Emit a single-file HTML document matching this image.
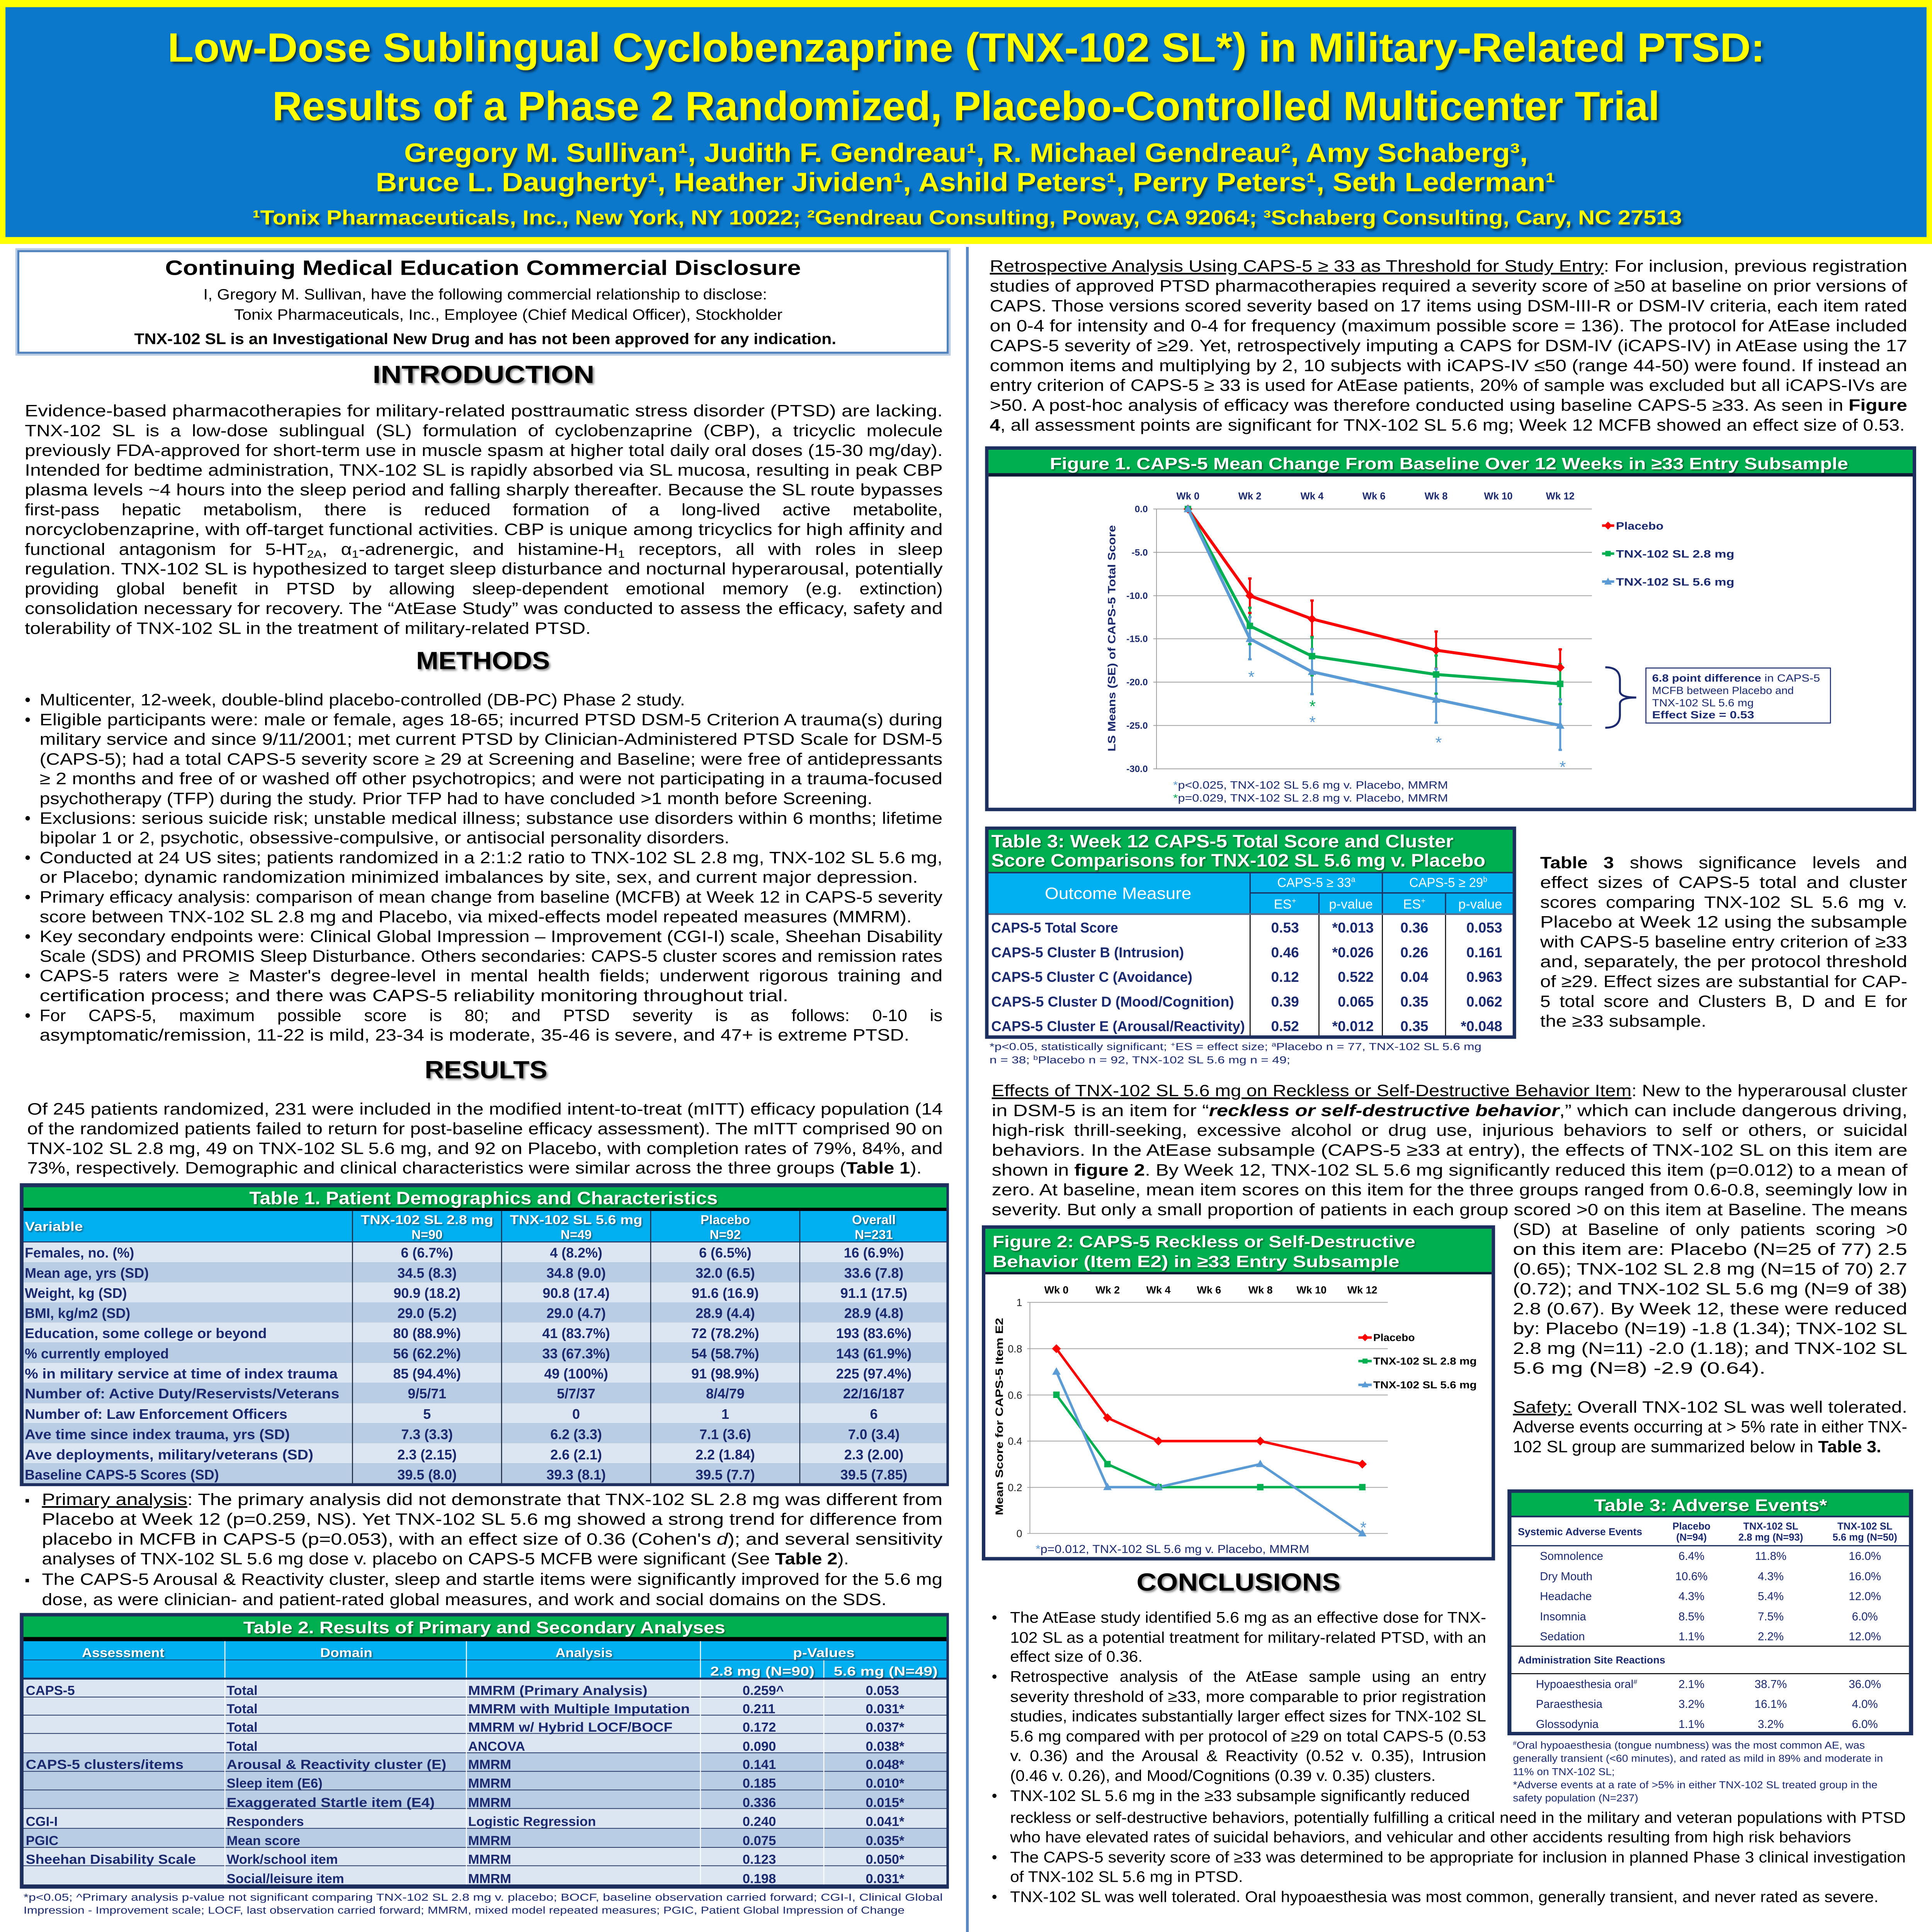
<!DOCTYPE html>
<html><head><meta charset="utf-8"><style>
html,body{margin:0;padding:0;background:#fff;width:100%;height:100%;overflow:hidden}
svg{display:block;width:100vw;height:100vh}
</style></head><body>
<svg xmlns="http://www.w3.org/2000/svg" width="100%" height="100%" viewBox="0 0 7800 7800" preserveAspectRatio="none">
<style>
text{font-family:"Liberation Sans",Arial,"DejaVu Sans",sans-serif}
.bd{font-size:67px;fill:#000}
.cn{font-size:62px;fill:#000}
.hd{font-size:100px;font-weight:bold;fill:#000;filter:drop-shadow(6px 6px 4px rgba(0,0,0,.45))}
.nv{fill:#1b2a6e}
.tt{font-weight:bold;fill:#fff;filter:drop-shadow(4px 4px 3px rgba(0,0,0,.5))}
.t1{font-size:56px;font-weight:bold;fill:#1b2a6e}
.t2{font-size:54px;font-weight:bold;fill:#1b2a6e}
.fn{font-size:40px;fill:#1b2a6e}
</style>

<!-- ============ HEADER ============ -->
<rect x="0" y="0" width="7800" height="985" fill="#ffff00"/>
<rect x="22" y="29" width="7756" height="928" fill="#0b78cc"/>
<g font-weight="bold" fill="#ffff00" text-anchor="middle" style="filter:drop-shadow(8px 8px 5px rgba(0,0,0,.6))">
<text x="3901" y="249" font-size="165" textLength="6449" lengthAdjust="spacingAndGlyphs">Low-Dose Sublingual Cyclobenzaprine (TNX-102 SL*) in Military-Related PTSD:</text>
<text x="3900" y="485" font-size="165" textLength="5601" lengthAdjust="spacingAndGlyphs">Results of a Phase 2 Randomized, Placebo-Controlled Multicenter Trial</text>
<text x="3900" y="654" font-size="107" textLength="4537" lengthAdjust="spacingAndGlyphs">Gregory M. Sullivan¹, Judith F. Gendreau¹, R. Michael Gendreau², Amy Schaberg³,</text>
<text x="3898" y="772" font-size="107" textLength="4762" lengthAdjust="spacingAndGlyphs">Bruce L. Daugherty¹, Heather Jividen¹, Ashild Peters¹, Perry Peters¹, Seth Lederman¹</text>
<text x="3905" y="906" font-size="82" textLength="5771" lengthAdjust="spacingAndGlyphs">¹Tonix Pharmaceuticals, Inc., New York, NY 10022; ²Gendreau Consulting, Poway, CA 92064; ³Schaberg Consulting, Cary, NC 27513</text>
</g>

<!-- column divider -->
<rect x="3900" y="997" width="11" height="6803" fill="#5b87c5"/>

<!-- ============ LEFT COLUMN ============ -->
<rect x="70" y="1010" width="3760" height="418" fill="#fff" stroke="#b8cce4" stroke-width="16"/>
<rect x="74" y="1014" width="3752" height="410" fill="none" stroke="#4f81bd" stroke-width="8"/>
<g text-anchor="middle" fill="#000">
<text x="1950" y="1110" font-size="84" font-weight="bold" textLength="2567" lengthAdjust="spacingAndGlyphs">Continuing Medical Education Commercial Disclosure</text>
<text x="1959" y="1209" font-size="60" textLength="2276" lengthAdjust="spacingAndGlyphs">I, Gregory M. Sullivan, have the following commercial relationship to disclose:</text>
<text x="2052" y="1291" font-size="60" textLength="2214" lengthAdjust="spacingAndGlyphs">Tonix Pharmaceuticals, Inc., Employee (Chief Medical Officer), Stockholder</text>
<text x="1959" y="1389" font-size="62" font-weight="bold" textLength="2834" lengthAdjust="spacingAndGlyphs">TNX-102 SL is an Investigational New Drug and has not been approved for any indication.</text>
</g>

<text class="hd" x="1952" y="1546" text-anchor="middle" textLength="895" lengthAdjust="spacingAndGlyphs">INTRODUCTION</text>

<g class="bd">
<text x="100" y="1681" textLength="3706" lengthAdjust="spacingAndGlyphs">Evidence-based pharmacotherapies for military-related posttraumatic stress disorder (PTSD) are lacking.</text>
<text x="100" y="1761" textLength="3706" lengthAdjust="spacingAndGlyphs" style="word-spacing:20px">TNX-102 SL is a low-dose sublingual (SL) formulation of cyclobenzaprine (CBP), a tricyclic molecule</text>
<text x="100" y="1841" textLength="3706" lengthAdjust="spacingAndGlyphs">previously FDA-approved for short-term use in muscle spasm at higher total daily oral doses (15-30 mg/day).</text>
<text x="100" y="1920" textLength="3706" lengthAdjust="spacingAndGlyphs">Intended for bedtime administration, TNX-102 SL is rapidly absorbed via SL mucosa, resulting in peak CBP</text>
<text x="100" y="2000" textLength="3706" lengthAdjust="spacingAndGlyphs">plasma levels ~4 hours into the sleep period and falling sharply thereafter. Because the SL route bypasses</text>
<text x="100" y="2080" textLength="3706" lengthAdjust="spacingAndGlyphs" style="word-spacing:62px">first-pass hepatic metabolism, there is reduced formation of a long-lived active metabolite,</text>
<text x="100" y="2160" textLength="3706" lengthAdjust="spacingAndGlyphs">norcyclobenzaprine, with off-target functional activities.  CBP is unique among tricyclics for high affinity and</text>
<text x="100" y="2240" textLength="3706" lengthAdjust="spacingAndGlyphs" style="word-spacing:30px">functional antagonism for 5-HT<tspan font-size="44" dy="12">2A</tspan><tspan dy="-12">, α</tspan><tspan font-size="44" dy="12">1</tspan><tspan dy="-12">-adrenergic, and histamine-H</tspan><tspan font-size="44" dy="12">1</tspan><tspan dy="-12"> receptors, all with roles in sleep</tspan></text>
<text x="100" y="2319" textLength="3706" lengthAdjust="spacingAndGlyphs">regulation. TNX-102 SL is hypothesized to target sleep disturbance and nocturnal hyperarousal, potentially</text>
<text x="100" y="2399" textLength="3706" lengthAdjust="spacingAndGlyphs" style="word-spacing:45px">providing global benefit in PTSD by allowing sleep-dependent emotional memory (e.g. extinction)</text>
<text x="100" y="2479" textLength="3706" lengthAdjust="spacingAndGlyphs">consolidation necessary for recovery. The “AtEase Study” was conducted to assess the efficacy, safety and</text>
<text x="100" y="2559" textLength="2285" lengthAdjust="spacingAndGlyphs">tolerability of TNX-102 SL in the treatment of military-related PTSD.</text>
</g>

<text class="hd" x="1950" y="2701" text-anchor="middle" textLength="540" lengthAdjust="spacingAndGlyphs">METHODS</text>

<g class="bd">
<text x="100" y="2848">•</text><text x="160" y="2848" textLength="2606" lengthAdjust="spacingAndGlyphs">Multicenter, 12-week, double-blind placebo-controlled (DB-PC) Phase 2 study.</text>
<text x="100" y="2928">•</text><text x="160" y="2928" textLength="3645" lengthAdjust="spacingAndGlyphs">Eligible participants were: male or female, ages 18-65; incurred PTSD DSM-5 Criterion A trauma(s) during</text>
<text x="160" y="3007" textLength="3645" lengthAdjust="spacingAndGlyphs">military service and since 9/11/2001; met current PTSD by Clinician-Administered PTSD Scale for DSM-5</text>
<text x="160" y="3087" textLength="3645" lengthAdjust="spacingAndGlyphs">(CAPS-5); had a total CAPS-5 severity score ≥ 29 at Screening and Baseline; were free of antidepressants</text>
<text x="160" y="3166" textLength="3645" lengthAdjust="spacingAndGlyphs">≥ 2 months and free of or washed off other psychotropics; and were not participating in a trauma-focused</text>
<text x="160" y="3246" textLength="3362" lengthAdjust="spacingAndGlyphs">psychotherapy (TFP) during the study. Prior TFP had to have concluded &gt;1 month before Screening.</text>
<text x="100" y="3326">•</text><text x="160" y="3326" textLength="3645" lengthAdjust="spacingAndGlyphs">Exclusions: serious suicide risk; unstable medical illness; substance use disorders within 6 months; lifetime</text>
<text x="160" y="3405" textLength="2785" lengthAdjust="spacingAndGlyphs">bipolar 1 or 2, psychotic, obsessive-compulsive, or antisocial personality disorders.</text>
<text x="100" y="3485">•</text><text x="160" y="3485" textLength="3645" lengthAdjust="spacingAndGlyphs">Conducted at 24 US sites; patients randomized in a 2:1:2 ratio to TNX-102 SL 2.8 mg, TNX-102 SL 5.6 mg,</text>
<text x="160" y="3564" textLength="3546" lengthAdjust="spacingAndGlyphs">or Placebo; dynamic randomization minimized imbalances by site, sex, and current major depression.</text>
<text x="100" y="3644">•</text><text x="160" y="3644" textLength="3645" lengthAdjust="spacingAndGlyphs">Primary efficacy analysis: comparison of mean change from baseline (MCFB) at Week 12 in CAPS-5 severity</text>
<text x="160" y="3724" textLength="3521" lengthAdjust="spacingAndGlyphs">score between TNX-102 SL 2.8 mg and Placebo, via mixed-effects model repeated measures (MMRM).</text>
<text x="100" y="3803">•</text><text x="160" y="3803" textLength="3645" lengthAdjust="spacingAndGlyphs">Key secondary endpoints were: Clinical Global Impression – Improvement (CGI-I) scale, Sheehan Disability</text>
<text x="160" y="3883" textLength="3645" lengthAdjust="spacingAndGlyphs">Scale (SDS) and PROMIS Sleep Disturbance. Others secondaries: CAPS-5 cluster scores and remission rates</text>
<text x="100" y="3962">•</text><text x="160" y="3962" textLength="3645" lengthAdjust="spacingAndGlyphs" style="word-spacing:15px">CAPS-5 raters were ≥ Master's degree-level in mental health fields; underwent rigorous training and</text>
<text x="160" y="4042" textLength="3023" lengthAdjust="spacingAndGlyphs">certification process; and there was CAPS-5 reliability monitoring throughout trial.</text>
<text x="100" y="4122">•</text><text x="160" y="4122" textLength="3645" lengthAdjust="spacingAndGlyphs" style="word-spacing:68px">For CAPS-5, maximum possible score is 80; and PTSD severity is as follows: 0-10 is</text>
<text x="160" y="4201" textLength="3511" lengthAdjust="spacingAndGlyphs">asymptomatic/remission, 11-22 is mild, 23-34 is moderate,  35-46 is severe, and 47+ is extreme PTSD.</text>
</g>

<text class="hd" x="1962" y="4353" text-anchor="middle" textLength="495" lengthAdjust="spacingAndGlyphs">RESULTS</text>

<g class="bd">
<text x="110" y="4500" textLength="3696" lengthAdjust="spacingAndGlyphs">Of 245 patients randomized, 231 were included in the modified intent-to-treat (mITT) efficacy population (14</text>
<text x="110" y="4579" textLength="3696" lengthAdjust="spacingAndGlyphs">of the randomized patients failed to return for post-baseline efficacy assessment). The mITT comprised 90 on</text>
<text x="110" y="4659" textLength="3696" lengthAdjust="spacingAndGlyphs">TNX-102 SL 2.8 mg, 49 on TNX-102 SL 5.6 mg, and 92 on Placebo, with completion rates of 79%, 84%, and</text>
<text x="110" y="4738" textLength="3611" lengthAdjust="spacingAndGlyphs">73%, respectively. Demographic and clinical characteristics were similar across the three groups (<tspan font-weight="bold">Table 1</tspan>).</text>
</g>

<!-- Table 1 -->
<rect x="80" y="4777" width="3751" height="1223" fill="#1c2f5e"/>
<rect x="95" y="4793" width="3726" height="83" fill="#00b050"/>
<rect x="95" y="4876" width="3726" height="13" fill="#000"/>
<rect x="95" y="4889" width="3726" height="123" fill="#00b0f0"/>
<g>
<rect x="95" y="5016" width="3726" height="81" fill="#dce6f2"/>
<rect x="95" y="5097" width="3726" height="80" fill="#b9cde5"/>
<rect x="95" y="5177" width="3726" height="81" fill="#dce6f2"/>
<rect x="95" y="5258" width="3726" height="81" fill="#b9cde5"/>
<rect x="95" y="5339" width="3726" height="81" fill="#dce6f2"/>
<rect x="95" y="5420" width="3726" height="82" fill="#b9cde5"/>
<rect x="95" y="5502" width="3726" height="81" fill="#dce6f2"/>
<rect x="95" y="5583" width="3726" height="82" fill="#b9cde5"/>
<rect x="95" y="5665" width="3726" height="81" fill="#dce6f2"/>
<rect x="95" y="5746" width="3726" height="80" fill="#b9cde5"/>
<rect x="95" y="5826" width="3726" height="82" fill="#dce6f2"/>
<rect x="95" y="5908" width="3726" height="80" fill="#b9cde5"/>
</g>
<g stroke="#1a2540" stroke-width="4">
<line x1="1423" y1="4889" x2="1423" y2="5988"/><line x1="2025" y1="4889" x2="2025" y2="5988"/>
<line x1="2627" y1="4889" x2="2627" y2="5988"/><line x1="3229" y1="4889" x2="3229" y2="5988"/>
</g>
<text class="tt" x="1952" y="4862" font-size="72" text-anchor="middle" textLength="1891" lengthAdjust="spacingAndGlyphs">Table 1. Patient Demographics and Characteristics</text>
<g class="tt" font-size="52">
<text x="100" y="4969" textLength="235" lengthAdjust="spacingAndGlyphs">Variable</text>
<g text-anchor="middle">
<text x="1724" y="4942" textLength="535" lengthAdjust="spacingAndGlyphs">TNX-102 SL 2.8 mg</text><text x="1724" y="5002">N=90</text>
<text x="2326" y="4942" textLength="535" lengthAdjust="spacingAndGlyphs">TNX-102 SL 5.6 mg</text><text x="2326" y="5002">N=49</text>
<text x="2928" y="4942">Placebo</text><text x="2928" y="5002">N=92</text>
<text x="3528" y="4942">Overall</text><text x="3528" y="5002">N=231</text>
</g></g>
<g class="t1">
<text x="100" y="5077">Females, no. (%)</text>
<text x="100" y="5159">Mean age, yrs (SD)</text>
<text x="100" y="5240">Weight, kg (SD)</text>
<text x="100" y="5321">BMI, kg/m2 (SD)</text>
<text x="100" y="5402" textLength="977" lengthAdjust="spacingAndGlyphs">Education, some college or beyond</text>
<text x="100" y="5484">% currently employed</text>
<text x="100" y="5565" textLength="1263" lengthAdjust="spacingAndGlyphs">% in military service at time of index trauma</text>
<text x="100" y="5646" textLength="1270" lengthAdjust="spacingAndGlyphs">Number of: Active Duty/Reservists/Veterans</text>
<text x="100" y="5728" textLength="1060" lengthAdjust="spacingAndGlyphs">Number of: Law Enforcement Officers</text>
<text x="100" y="5810" textLength="1070" lengthAdjust="spacingAndGlyphs">Ave time since index trauma, yrs (SD)</text>
<text x="100" y="5892" textLength="1165" lengthAdjust="spacingAndGlyphs">Ave deployments, military/veterans (SD)</text>
<text x="100" y="5973">Baseline CAPS-5 Scores (SD)</text>
<g text-anchor="middle">
<text x="1724" y="5077">6 (6.7%)</text><text x="2326" y="5077">4 (8.2%)</text><text x="2928" y="5077">6 (6.5%)</text><text x="3528" y="5077">16 (6.9%)</text>
<text x="1724" y="5159">34.5 (8.3)</text><text x="2326" y="5159">34.8 (9.0)</text><text x="2928" y="5159">32.0 (6.5)</text><text x="3528" y="5159">33.6 (7.8)</text>
<text x="1724" y="5240">90.9 (18.2)</text><text x="2326" y="5240">90.8 (17.4)</text><text x="2928" y="5240">91.6 (16.9)</text><text x="3528" y="5240">91.1 (17.5)</text>
<text x="1724" y="5321">29.0 (5.2)</text><text x="2326" y="5321">29.0 (4.7)</text><text x="2928" y="5321">28.9 (4.4)</text><text x="3528" y="5321">28.9 (4.8)</text>
<text x="1724" y="5402">80 (88.9%)</text><text x="2326" y="5402">41 (83.7%)</text><text x="2928" y="5402">72 (78.2%)</text><text x="3528" y="5402">193 (83.6%)</text>
<text x="1724" y="5484">56 (62.2%)</text><text x="2326" y="5484">33 (67.3%)</text><text x="2928" y="5484">54 (58.7%)</text><text x="3528" y="5484">143 (61.9%)</text>
<text x="1724" y="5565">85 (94.4%)</text><text x="2326" y="5565">49 (100%)</text><text x="2928" y="5565">91 (98.9%)</text><text x="3528" y="5565">225 (97.4%)</text>
<text x="1724" y="5646">9/5/71</text><text x="2326" y="5646">5/7/37</text><text x="2928" y="5646">8/4/79</text><text x="3528" y="5646">22/16/187</text>
<text x="1724" y="5728">5</text><text x="2326" y="5728">0</text><text x="2928" y="5728">1</text><text x="3528" y="5728">6</text>
<text x="1724" y="5810">7.3 (3.3)</text><text x="2326" y="5810">6.2 (3.3)</text><text x="2928" y="5810">7.1 (3.6)</text><text x="3528" y="5810">7.0 (3.4)</text>
<text x="1724" y="5892">2.3 (2.15)</text><text x="2326" y="5892">2.6 (2.1)</text><text x="2928" y="5892">2.2 (1.84)</text><text x="3528" y="5892">2.3 (2.00)</text>
<text x="1724" y="5973">39.5 (8.0)</text><text x="2326" y="5973">39.3 (8.1)</text><text x="2928" y="5973">39.5 (7.7)</text><text x="3528" y="5973">39.5 (7.85)</text>
</g></g>

<g class="bd">
<text x="100" y="6076" font-size="56">▪</text><text x="169" y="6076" textLength="3636" lengthAdjust="spacingAndGlyphs"><tspan text-decoration="underline">Primary analysis</tspan>: The primary analysis did not demonstrate that TNX-102 SL 2.8 mg was different from</text>
<text x="169" y="6156" textLength="3636" lengthAdjust="spacingAndGlyphs">Placebo at Week 12 (p=0.259, NS). Yet TNX-102 SL 5.6 mg showed a strong trend for difference from</text>
<text x="169" y="6236" textLength="3636" lengthAdjust="spacingAndGlyphs">placebo in MCFB in CAPS-5 (p=0.053), with an effect size of 0.36 (Cohen's <tspan font-style="italic">d</tspan>); and several sensitivity</text>
<text x="169" y="6316" textLength="3258" lengthAdjust="spacingAndGlyphs">analyses of TNX-102 SL 5.6 mg dose v. placebo on CAPS-5 MCFB were significant (See <tspan font-weight="bold">Table 2</tspan>).</text>
<text x="100" y="6398" font-size="56">▪</text><text x="169" y="6398" textLength="3636" lengthAdjust="spacingAndGlyphs">The CAPS-5 Arousal &amp; Reactivity cluster, sleep and startle items were significantly improved for the 5.6 mg</text>
<text x="169" y="6480" textLength="3410" lengthAdjust="spacingAndGlyphs">dose, as were clinician- and patient-rated global measures, and work and social domains on the SDS.</text>
</g>

<!-- Table 2 -->
<rect x="80" y="6512" width="3751" height="1113" fill="#1c2f5e"/>
<rect x="95" y="6526" width="3726" height="83" fill="#00b050"/>
<rect x="95" y="6609" width="3726" height="17" fill="#000"/>
<rect x="95" y="6626" width="3726" height="74" fill="#00b0f0"/>
<rect x="95" y="6703" width="3726" height="70" fill="#00b0f0"/>
<g>
<rect x="95" y="6781" width="3726" height="69" fill="#dce6f2"/>
<rect x="95" y="6853" width="3726" height="70" fill="#dce6f2"/>
<rect x="95" y="6926" width="3726" height="71" fill="#dce6f2"/>
<rect x="95" y="7000" width="3726" height="75" fill="#dce6f2"/>
<rect x="95" y="7078" width="3726" height="72" fill="#b9cde5"/>
<rect x="95" y="7153" width="3726" height="72" fill="#b9cde5"/>
<rect x="95" y="7228" width="3726" height="72" fill="#b9cde5"/>
<rect x="95" y="7303" width="3726" height="77" fill="#dce6f2"/>
<rect x="95" y="7383" width="3726" height="74" fill="#b9cde5"/>
<rect x="95" y="7460" width="3726" height="71" fill="#dce6f2"/>
<rect x="95" y="7534" width="3726" height="74" fill="#dce6f2"/>
</g>
<g stroke="#fff" stroke-width="4">
<line x1="908" y1="6626" x2="908" y2="6773"/><line x1="1883" y1="6626" x2="1883" y2="6773"/><line x1="2828" y1="6626" x2="2828" y2="6773"/><line x1="3326" y1="6703" x2="3326" y2="6773"/>
<line x1="908" y1="6781" x2="908" y2="7608"/><line x1="1883" y1="6781" x2="1883" y2="7608"/><line x1="2828" y1="6781" x2="2828" y2="7608"/><line x1="3326" y1="6781" x2="3326" y2="7608"/>
</g>
<text class="tt" x="1955" y="6594" font-size="68" text-anchor="middle" textLength="1946" lengthAdjust="spacingAndGlyphs">Table 2. Results of Primary and Secondary Analyses</text>
<g class="tt" font-size="52" text-anchor="middle">
<text x="497" y="6690" textLength="333" lengthAdjust="spacingAndGlyphs">Assessment</text>
<text x="1398" y="6690" textLength="211" lengthAdjust="spacingAndGlyphs">Domain</text>
<text x="2358" y="6690" textLength="231" lengthAdjust="spacingAndGlyphs">Analysis</text>
<text x="3326" y="6690" textLength="249" lengthAdjust="spacingAndGlyphs">p-Values</text>
<text x="3078" y="6765" textLength="421" lengthAdjust="spacingAndGlyphs">2.8 mg (N=90)</text>
<text x="3576" y="6765" textLength="420" lengthAdjust="spacingAndGlyphs">5.6 mg (N=49)</text>
</g>
<g class="t2">
<text x="104" y="6843">CAPS-5</text><text x="915" y="6843">Total</text><text x="1890" y="6843" textLength="724" lengthAdjust="spacingAndGlyphs">MMRM (Primary Analysis)</text><text x="2998" y="6843">0.259^</text><text x="3495" y="6843">0.053</text>
<text x="915" y="6917">Total</text><text x="1890" y="6917" textLength="895" lengthAdjust="spacingAndGlyphs">MMRM with Multiple Imputation</text><text x="2998" y="6917">0.211</text><text x="3495" y="6917">0.031*</text>
<text x="915" y="6991">Total</text><text x="1890" y="6991" textLength="825" lengthAdjust="spacingAndGlyphs">MMRM w/ Hybrid LOCF/BOCF</text><text x="2998" y="6991">0.172</text><text x="3495" y="6991">0.037*</text>
<text x="915" y="7068">Total</text><text x="1890" y="7068">ANCOVA</text><text x="2998" y="7068">0.090</text><text x="3495" y="7068">0.038*</text>
<text x="104" y="7142" textLength="637" lengthAdjust="spacingAndGlyphs">CAPS-5 clusters/items</text><text x="915" y="7142" textLength="887" lengthAdjust="spacingAndGlyphs">Arousal &amp; Reactivity cluster (E)</text><text x="1890" y="7142">MMRM</text><text x="2998" y="7142">0.141</text><text x="3495" y="7142">0.048*</text>
<text x="915" y="7217">Sleep item (E6)</text><text x="1890" y="7217">MMRM</text><text x="2998" y="7217">0.185</text><text x="3495" y="7217">0.010*</text>
<text x="915" y="7295" textLength="840" lengthAdjust="spacingAndGlyphs">Exaggerated Startle item (E4)</text><text x="1890" y="7295">MMRM</text><text x="2998" y="7295">0.336</text><text x="3495" y="7295">0.015*</text>
<text x="104" y="7372">CGI-I</text><text x="915" y="7372">Responders</text><text x="1890" y="7372">Logistic Regression</text><text x="2998" y="7372">0.240</text><text x="3495" y="7372">0.041*</text>
<text x="104" y="7449">PGIC</text><text x="915" y="7449">Mean score</text><text x="1890" y="7449">MMRM</text><text x="2998" y="7449">0.075</text><text x="3495" y="7449">0.035*</text>
<text x="104" y="7525" textLength="687" lengthAdjust="spacingAndGlyphs">Sheehan Disability Scale</text><text x="915" y="7525">Work/school item</text><text x="1890" y="7525">MMRM</text><text x="2998" y="7525">0.123</text><text x="3495" y="7525">0.050*</text>
<text x="915" y="7603">Social/leisure item</text><text x="1890" y="7603">MMRM</text><text x="2998" y="7603">0.198</text><text x="3495" y="7603">0.031*</text>
</g>
<g class="fn" font-size="44">
<text x="95" y="7674" textLength="3711" lengthAdjust="spacingAndGlyphs">*p&lt;0.05; ^Primary analysis p-value not significant comparing TNX-102 SL 2.8 mg v. placebo; BOCF, baseline observation carried forward; CGI-I, Clinical Global</text>
<text x="95" y="7726" textLength="3557" lengthAdjust="spacingAndGlyphs">Impression - Improvement scale; LOCF, last observation carried forward; MMRM, mixed model repeated measures; PGIC, Patient Global Impression of Change</text>
</g>

<!-- ============ RIGHT COLUMN ============ -->
<g class="bd">
<text x="3996" y="1097" textLength="3704" lengthAdjust="spacingAndGlyphs"><tspan text-decoration="underline">Retrospective Analysis Using CAPS-5 ≥ 33 as Threshold for Study Entry</tspan>: For inclusion, previous registration</text>
<text x="3996" y="1177" textLength="3704" lengthAdjust="spacingAndGlyphs">studies of approved PTSD pharmacotherapies required a severity score of ≥50 at baseline on prior versions of</text>
<text x="3996" y="1257" textLength="3704" lengthAdjust="spacingAndGlyphs">CAPS. Those versions scored severity based on 17 items using DSM-III-R or DSM-IV criteria, each item rated</text>
<text x="3996" y="1338" textLength="3704" lengthAdjust="spacingAndGlyphs">on 0-4 for intensity and 0-4 for frequency (maximum possible score = 136). The protocol for AtEase included</text>
<text x="3996" y="1418" textLength="3704" lengthAdjust="spacingAndGlyphs">CAPS-5 severity of ≥29. Yet, retrospectively imputing a CAPS for DSM-IV (iCAPS-IV) in AtEase using the 17</text>
<text x="3996" y="1498" textLength="3704" lengthAdjust="spacingAndGlyphs">common items and multiplying by 2, 10 subjects with iCAPS-IV ≤50 (range 44-50) were found. If instead an</text>
<text x="3996" y="1578" textLength="3704" lengthAdjust="spacingAndGlyphs">entry criterion of CAPS-5 ≥ 33 is used for AtEase patients, 20% of sample was excluded but all iCAPS-IVs are</text>
<text x="3996" y="1658" textLength="3704" lengthAdjust="spacingAndGlyphs">&gt;50. A post-hoc analysis of efficacy was therefore conducted using baseline CAPS-5 ≥33. As seen in <tspan font-weight="bold">Figure</tspan></text>
<text x="3996" y="1739" textLength="3694" lengthAdjust="spacingAndGlyphs"><tspan font-weight="bold">4</tspan>, all assessment points are significant for TNX-102 SL 5.6 mg; Week 12 MCFB showed an effect size of 0.53.</text>
</g>

<!-- Figure 1 -->
<rect x="3984" y="1809" width="3745" height="1459" fill="#fff" stroke="#1c2f5e" stroke-width="14"/>
<rect x="3991" y="1816" width="3731" height="94" fill="#00b050"/>
<rect x="3991" y="1910" width="3731" height="14" fill="#0d1a33"/>
<text class="tt" x="5850" y="1895" font-size="66" text-anchor="middle" textLength="3223" lengthAdjust="spacingAndGlyphs">Figure 1. CAPS-5 Mean Change From Baseline Over 12 Weeks in ≥33 Entry Subsample</text>
<g stroke="#9a9a9a" stroke-width="3">
<line x1="4656" y1="2055" x2="6427" y2="2055"/><line x1="4656" y1="2230" x2="6427" y2="2230"/>
<line x1="4656" y1="2405" x2="6427" y2="2405"/><line x1="4656" y1="2579" x2="6427" y2="2579"/>
<line x1="4656" y1="2754" x2="6427" y2="2754"/><line x1="4656" y1="2929" x2="6427" y2="2929"/>
<line x1="4656" y1="3104" x2="6427" y2="3104"/>
<line x1="4669" y1="2055" x2="4669" y2="3104"/>
</g>
<g font-size="38" font-weight="bold" text-anchor="end">
<text x="4634" y="2068" class="nv">0.0</text><text x="4634" y="2243" class="nv">-5.0</text>
<text x="4634" y="2418" class="nv">-10.0</text><text x="4634" y="2592" class="nv">-15.0</text>
<text x="4634" y="2767" class="nv">-20.0</text><text x="4634" y="2942" class="nv">-25.0</text>
<text x="4634" y="3117" class="nv">-30.0</text>
</g>
<g font-size="40" font-weight="bold" text-anchor="middle">
<text x="4796" y="2016" class="nv">Wk 0</text><text x="5046" y="2016" class="nv">Wk 2</text><text x="5297" y="2016" class="nv">Wk 4</text>
<text x="5547" y="2016" class="nv">Wk 6</text><text x="5798" y="2016" class="nv">Wk 8</text><text x="6049" y="2016" class="nv">Wk 10</text>
<text x="6299" y="2016" class="nv">Wk 12</text>
</g>
<text transform="translate(4503,2577) rotate(-90)" text-anchor="middle" font-size="44" font-weight="bold" class="nv" textLength="914" lengthAdjust="spacingAndGlyphs">LS Means (SE) of CAPS-5 Total Score</text>
<g stroke-width="8">
<g stroke="#ff0000"><line x1="5046" y1="2335" x2="5046" y2="2474"/><line x1="5297" y1="2424" x2="5297" y2="2570"/><line x1="5798" y1="2549" x2="5798" y2="2699"/><line x1="6299" y1="2621" x2="6299" y2="2768"/></g>
<g stroke="#00b050"><line x1="5046" y1="2453" x2="5046" y2="2600"/><line x1="5297" y1="2572" x2="5297" y2="2726"/><line x1="5798" y1="2646" x2="5798" y2="2800"/><line x1="6299" y1="2681" x2="6299" y2="2842"/></g>
<g stroke="#5b9bd5"><line x1="5046" y1="2491" x2="5046" y2="2661"/><line x1="5297" y1="2620" x2="5297" y2="2802"/><line x1="5798" y1="2700" x2="5798" y2="2917"/><line x1="6299" y1="2823" x2="6299" y2="3027"/></g>
</g>
<!-- error bar caps -->
<g>
<g fill="#ff0000"><rect x="5039" y="2331" width="14" height="9"/><rect x="5039" y="2470" width="14" height="9"/><rect x="5290" y="2420" width="14" height="9"/><rect x="5290" y="2566" width="14" height="9"/><rect x="5791" y="2545" width="14" height="9"/><rect x="5791" y="2695" width="14" height="9"/><rect x="6292" y="2617" width="14" height="9"/><rect x="6292" y="2764" width="14" height="9"/></g>
<g fill="#00b050"><rect x="5039" y="2449" width="14" height="9"/><rect x="5039" y="2596" width="14" height="9"/><rect x="5290" y="2568" width="14" height="9"/><rect x="5290" y="2722" width="14" height="9"/><rect x="5791" y="2642" width="14" height="9"/><rect x="5791" y="2796" width="14" height="9"/><rect x="6292" y="2677" width="14" height="9"/><rect x="6292" y="2838" width="14" height="9"/></g>
<g fill="#5b9bd5"><rect x="5039" y="2487" width="14" height="9"/><rect x="5039" y="2657" width="14" height="9"/><rect x="5290" y="2616" width="14" height="9"/><rect x="5290" y="2798" width="14" height="9"/><rect x="5791" y="2696" width="14" height="9"/><rect x="5791" y="2913" width="14" height="9"/><rect x="6292" y="2819" width="14" height="9"/><rect x="6292" y="3023" width="14" height="9"/></g>
</g>
<g fill="none" stroke-width="12" stroke-linejoin="round">
<polyline stroke="#ff0000" points="4796,2055 5046,2405 5297,2499 5798,2625 6299,2695"/>
<polyline stroke="#00b050" points="4796,2055 5046,2527 5297,2649 5798,2723 6299,2761"/>
<polyline stroke="#5b9bd5" points="4796,2055 5046,2579 5297,2712 5798,2824 6299,2929"/>
</g>
<g fill="#ff0000">
<polygon points="4796,2037 4814,2055 4796,2073 4778,2055"/><polygon points="5046,2387 5064,2405 5046,2423 5028,2405"/>
<polygon points="5297,2481 5315,2499 5297,2517 5279,2499"/><polygon points="5798,2607 5816,2625 5798,2643 5780,2625"/>
<polygon points="6299,2677 6317,2695 6299,2713 6281,2695"/>
</g>
<g fill="#00b050">
<rect x="4783" y="2042" width="26" height="26"/><rect x="5033" y="2514" width="26" height="26"/><rect x="5284" y="2636" width="26" height="26"/><rect x="5785" y="2710" width="26" height="26"/><rect x="6286" y="2748" width="26" height="26"/>
</g>
<g fill="#5b9bd5">
<polygon points="4796,2037 4813,2068 4779,2068"/><polygon points="5046,2561 5063,2592 5029,2592"/><polygon points="5297,2694 5314,2725 5280,2725"/><polygon points="5798,2806 5815,2837 5781,2837"/><polygon points="6299,2911 6316,2942 6282,2942"/>
</g>
<g font-size="66" text-anchor="middle">
<text x="5052" y="2756" fill="#5b9bd5">*</text>
<text x="5299" y="2874" fill="#00b050">*</text>
<text x="5299" y="2938" fill="#5b9bd5">*</text>
<text x="5808" y="3021" fill="#5b9bd5">*</text>
<text x="6309" y="3119" fill="#5b9bd5">*</text>
</g>
<g stroke-width="10"><line x1="6468" y1="2122" x2="6517" y2="2122" stroke="#ff0000"/><line x1="6468" y1="2235" x2="6517" y2="2235" stroke="#00b050"/><line x1="6468" y1="2348" x2="6517" y2="2348" stroke="#5b9bd5"/></g>
<polygon points="6492,2106 6508,2122 6492,2138 6476,2122" fill="#ff0000"/>
<rect x="6481" y="2224" width="22" height="22" fill="#00b050"/>
<polygon points="6492,2332 6507,2360 6477,2360" fill="#5b9bd5"/>
<g font-size="44" font-weight="bold">
<text x="6524" y="2138" class="nv" textLength="192" lengthAdjust="spacingAndGlyphs">Placebo</text>
<text x="6524" y="2251" class="nv" textLength="478" lengthAdjust="spacingAndGlyphs">TNX-102 SL 2.8 mg</text>
<text x="6524" y="2364" class="nv" textLength="478" lengthAdjust="spacingAndGlyphs">TNX-102 SL 5.6 mg</text>
</g>
<path d="M6481,2694 Q6540,2694 6540,2745 L6540,2790 Q6540,2816 6606,2816 Q6540,2816 6540,2842 L6540,2887 Q6540,2938 6481,2938" fill="none" stroke="#1b2a6e" stroke-width="8"/>
<rect x="6645" y="2697" width="745" height="222" fill="#fff" stroke="#1b2a6e" stroke-width="4"/>
<g font-size="42">
<text x="6670" y="2752" class="nv" textLength="678" lengthAdjust="spacingAndGlyphs"><tspan font-weight="bold">6.8 point difference</tspan> in CAPS-5</text>
<text x="6670" y="2802" class="nv" textLength="572" lengthAdjust="spacingAndGlyphs">MCFB between Placebo and</text>
<text x="6670" y="2852" class="nv" textLength="410" lengthAdjust="spacingAndGlyphs">TNX-102 SL 5.6 mg</text>
<text x="6670" y="2900" class="nv" font-weight="bold" textLength="412" lengthAdjust="spacingAndGlyphs">Effect Size = 0.53</text>
</g>
<g font-size="44">
<text x="4736" y="3184" class="nv" textLength="1110" lengthAdjust="spacingAndGlyphs"><tspan fill="#5b9bd5">*</tspan>p&lt;0.025, TNX-102 SL 5.6 mg v. Placebo, MMRM</text>
<text x="4736" y="3236" class="nv" textLength="1110" lengthAdjust="spacingAndGlyphs"><tspan fill="#00b050">*</tspan>p=0.029, TNX-102 SL 2.8 mg v. Placebo, MMRM</text>
</g>

<!-- Table 3 (week 12) -->
<rect x="3977" y="3337" width="2144" height="857" fill="#1c2f5e"/>
<rect x="3991" y="3350" width="2116" height="170" fill="#00b050"/>
<rect x="3991" y="3526" width="2116" height="161" fill="#00b0f0"/>
<rect x="3991" y="3687" width="2116" height="7" fill="#5a6e8c"/>
<rect x="3991" y="3694" width="2116" height="486" fill="#fff"/>
<g stroke="#1c2f5e" stroke-width="5">
<line x1="5047" y1="3526" x2="5047" y2="3687"/><line x1="5581" y1="3526" x2="5581" y2="3687"/>
<line x1="5325" y1="3605" x2="5325" y2="3687"/><line x1="5836" y1="3605" x2="5836" y2="3687"/>
<line x1="5047" y1="3605" x2="6107" y2="3605"/>
</g>
<g stroke="#000" stroke-width="4">
<line x1="5047" y1="3694" x2="5047" y2="4180"/><line x1="5325" y1="3694" x2="5325" y2="4180"/>
<line x1="5581" y1="3694" x2="5581" y2="4180"/><line x1="5836" y1="3694" x2="5836" y2="4180"/>
</g>
<g class="tt" font-size="72">
<text x="4002" y="3421" textLength="1866" lengthAdjust="spacingAndGlyphs">Table 3:  Week 12 CAPS-5 Total Score and Cluster</text>
<text x="4002" y="3498" textLength="1995" lengthAdjust="spacingAndGlyphs">Score Comparisons for TNX-102 SL 5.6 mg v. Placebo</text>
</g>
<g fill="#fff" text-anchor="middle" font-size="54">
<text x="4514" y="3629" font-size="66" textLength="592" lengthAdjust="spacingAndGlyphs">Outcome Measure</text>
<text x="5314" y="3581" textLength="315" lengthAdjust="spacingAndGlyphs">CAPS-5 ≥ 33<tspan font-size="32" dy="-20">a</tspan></text>
<text x="5847" y="3581" textLength="315" lengthAdjust="spacingAndGlyphs">CAPS-5 ≥ 29<tspan font-size="32" dy="-20">b</tspan></text>
<text x="5188" y="3668">ES<tspan font-size="32" dy="-20">+</tspan></text>
<text x="5454" y="3668">p-value</text>
<text x="5710" y="3668">ES<tspan font-size="32" dy="-20">+</tspan></text>
<text x="5976" y="3668">p-value</text>
</g>
<g font-size="58" font-weight="bold">
<text x="4002" y="3765" class="nv" textLength="512" lengthAdjust="spacingAndGlyphs">CAPS-5 Total Score</text>
<text x="4002" y="3865" class="nv" textLength="778" lengthAdjust="spacingAndGlyphs">CAPS-5 Cluster B (Intrusion)</text>
<text x="4002" y="3964" class="nv" textLength="812" lengthAdjust="spacingAndGlyphs">CAPS-5 Cluster C (Avoidance)</text>
<text x="4002" y="4064" class="nv" textLength="980" lengthAdjust="spacingAndGlyphs">CAPS-5 Cluster D (Mood/Cognition)</text>
<text x="4002" y="4163" class="nv" textLength="1024" lengthAdjust="spacingAndGlyphs">CAPS-5 Cluster E (Arousal/Reactivity)</text>
<g text-anchor="middle">
<text x="5188" y="3765" class="nv">0.53</text><text x="5710" y="3765" class="nv">0.36</text>
<text x="5188" y="3865" class="nv">0.46</text><text x="5710" y="3865" class="nv">0.26</text>
<text x="5188" y="3964" class="nv">0.12</text><text x="5710" y="3964" class="nv">0.04</text>
<text x="5188" y="4064" class="nv">0.39</text><text x="5710" y="4064" class="nv">0.35</text>
<text x="5188" y="4163" class="nv">0.52</text><text x="5710" y="4163" class="nv">0.35</text>
</g>
<g text-anchor="end">
<text x="5546" y="3765" class="nv">*0.013</text><text x="6065" y="3765" class="nv">0.053</text>
<text x="5546" y="3865" class="nv">*0.026</text><text x="6065" y="3865" class="nv">0.161</text>
<text x="5546" y="3964" class="nv">0.522</text><text x="6065" y="3964" class="nv">0.963</text>
<text x="5546" y="4064" class="nv">0.065</text><text x="6065" y="4064" class="nv">0.062</text>
<text x="5546" y="4163" class="nv">*0.012</text><text x="6065" y="4163" class="nv">*0.048</text>
</g></g>
<g class="fn" font-size="42">
<text x="3995" y="4239" textLength="1986" lengthAdjust="spacingAndGlyphs">*p&lt;0.05, statistically significant; <tspan font-size="26" dy="-14">+</tspan><tspan dy="14">ES = effect size; </tspan><tspan font-size="26" dy="-14">a</tspan><tspan dy="14">Placebo n = 77, TNX-102 SL 5.6 mg</tspan></text>
<text x="3995" y="4293" textLength="1214" lengthAdjust="spacingAndGlyphs">n = 38;  <tspan font-size="26" dy="-14">b</tspan><tspan dy="14">Placebo n = 92, TNX-102 SL 5.6 mg n = 49;</tspan></text>
</g>

<g class="bd">
<text x="6218" y="3505" textLength="1482" lengthAdjust="spacingAndGlyphs" style="word-spacing:38px"><tspan font-weight="bold">Table 3</tspan>  shows significance levels and</text>
<text x="6218" y="3585" textLength="1482" lengthAdjust="spacingAndGlyphs" style="word-spacing:14px">effect sizes of CAPS-5 total and cluster</text>
<text x="6218" y="3665" textLength="1482" lengthAdjust="spacingAndGlyphs" style="word-spacing:14px">scores comparing TNX-102 SL 5.6 mg v.</text>
<text x="6218" y="3745" textLength="1482" lengthAdjust="spacingAndGlyphs">Placebo at Week 12 using the subsample</text>
<text x="6218" y="3825" textLength="1482" lengthAdjust="spacingAndGlyphs">with CAPS-5 baseline entry criterion of ≥33</text>
<text x="6218" y="3905" textLength="1482" lengthAdjust="spacingAndGlyphs">and, separately, the per protocol threshold</text>
<text x="6218" y="3985" textLength="1482" lengthAdjust="spacingAndGlyphs">of ≥29. Effect sizes are substantial for CAP-</text>
<text x="6218" y="4065" textLength="1482" lengthAdjust="spacingAndGlyphs" style="word-spacing:14px">5 total score and Clusters B, D and E for</text>
<text x="6218" y="4145" textLength="671" lengthAdjust="spacingAndGlyphs">the ≥33 subsample.</text>
</g>

<g class="bd">
<text x="4004" y="4426" textLength="3697" lengthAdjust="spacingAndGlyphs"><tspan text-decoration="underline">Effects of TNX-102 SL 5.6 mg on Reckless or Self-Destructive Behavior Item</tspan>: New to the hyperarousal cluster</text>
<text x="4004" y="4506" textLength="3697" lengthAdjust="spacingAndGlyphs">in DSM-5 is an item for “<tspan font-weight="bold" font-style="italic">reckless or self-destructive behavior</tspan>,” which can include dangerous driving,</text>
<text x="4004" y="4586" textLength="3697" lengthAdjust="spacingAndGlyphs" style="word-spacing:15px">high-risk thrill-seeking, excessive alcohol or drug use, injurious behaviors to self or others, or suicidal</text>
<text x="4004" y="4666" textLength="3697" lengthAdjust="spacingAndGlyphs">behaviors. In the AtEase subsample (CAPS-5 ≥33 at entry), the effects of TNX-102 SL on this item are</text>
<text x="4004" y="4746" textLength="3697" lengthAdjust="spacingAndGlyphs">shown in <tspan font-weight="bold">figure 2</tspan>. By Week 12, TNX-102 SL 5.6 mg significantly reduced this item (p=0.012) to a mean of</text>
<text x="4004" y="4826" textLength="3697" lengthAdjust="spacingAndGlyphs">zero. At baseline, mean item scores on this item for the three groups ranged from 0.6-0.8, seemingly low in</text>
<text x="4004" y="4906" textLength="3697" lengthAdjust="spacingAndGlyphs">severity. But only a small proportion of patients in each group scored &gt;0 on this item at Baseline. The means</text>
<text x="6108" y="4986" textLength="1592" lengthAdjust="spacingAndGlyphs" style="word-spacing:20px">(SD) at Baseline of only patients scoring &gt;0</text>
<text x="6108" y="5066" textLength="1592" lengthAdjust="spacingAndGlyphs">on this item are: Placebo (N=25 of 77) 2.5</text>
<text x="6108" y="5146" textLength="1592" lengthAdjust="spacingAndGlyphs">(0.65); TNX-102 SL 2.8 mg (N=15 of 70) 2.7</text>
<text x="6108" y="5226" textLength="1592" lengthAdjust="spacingAndGlyphs">(0.72); and TNX-102 SL 5.6 mg (N=9 of 38)</text>
<text x="6108" y="5306" textLength="1592" lengthAdjust="spacingAndGlyphs">2.8 (0.67). By Week 12, these were reduced</text>
<text x="6108" y="5386" textLength="1592" lengthAdjust="spacingAndGlyphs">by:   Placebo (N=19) -1.8 (1.34); TNX-102 SL</text>
<text x="6108" y="5466" textLength="1592" lengthAdjust="spacingAndGlyphs">2.8 mg (N=11) -2.0 (1.18); and TNX-102 SL</text>
<text x="6108" y="5546" textLength="1020" lengthAdjust="spacingAndGlyphs">5.6 mg (N=8) -2.9 (0.64).</text>
<text x="6108" y="5703" textLength="1592" lengthAdjust="spacingAndGlyphs"><tspan text-decoration="underline">Safety:</tspan> Overall TNX-102 SL was well tolerated.</text>
<text x="6108" y="5783" textLength="1592" lengthAdjust="spacingAndGlyphs">Adverse events occurring at &gt; 5% rate in either TNX-</text>
<text x="6108" y="5863" textLength="1487" lengthAdjust="spacingAndGlyphs">102 SL group are summarized below in <tspan font-weight="bold">Table 3.</tspan></text>
</g>

<!-- Figure 2 -->
<rect x="3971" y="4954" width="2058" height="1339" fill="#fff" stroke="#1c2f5e" stroke-width="14"/>
<rect x="3978" y="4961" width="2044" height="174" fill="#00b050"/>
<rect x="3978" y="5135" width="2044" height="10" fill="#0d1a33"/>
<g class="tt" font-size="66">
<text x="4007" y="5036" textLength="1707" lengthAdjust="spacingAndGlyphs">Figure 2: CAPS-5 Reckless or Self-Destructive</text>
<text x="4007" y="5116" textLength="1643" lengthAdjust="spacingAndGlyphs">Behavior (Item E2) in ≥33 Entry Subsample</text>
</g>
<g stroke="#a0a0a0" stroke-width="3">
<line x1="4147" y1="5258" x2="5603" y2="5258"/><line x1="4147" y1="5445" x2="5603" y2="5445"/>
<line x1="4147" y1="5632" x2="5603" y2="5632"/><line x1="4147" y1="5818" x2="5603" y2="5818"/>
<line x1="4147" y1="6005" x2="5603" y2="6005"/><line x1="4147" y1="6191" x2="5603" y2="6191"/>
<line x1="4158" y1="5258" x2="4158" y2="6191"/>
</g>
<g font-size="42" fill="#222" text-anchor="end">
<text x="4127" y="5273">1</text><text x="4127" y="5460">0.8</text><text x="4127" y="5647">0.6</text>
<text x="4127" y="5833">0.4</text><text x="4127" y="6020">0.2</text><text x="4127" y="6206">0</text>
</g>
<g font-size="42" font-weight="bold" fill="#000" text-anchor="middle">
<text x="4265" y="5222">Wk 0</text><text x="4472" y="5222">Wk 2</text><text x="4677" y="5222">Wk 4</text>
<text x="4881" y="5222">Wk 6</text><text x="5089" y="5222">Wk 8</text><text x="5295" y="5222">Wk 10</text><text x="5500" y="5222">Wk 12</text>
</g>
<text transform="translate(4049,5719) rotate(-90)" text-anchor="middle" font-size="44" font-weight="bold" fill="#000" textLength="797" lengthAdjust="spacingAndGlyphs">Mean  Score for CAPS-5 Item E2</text>
<g fill="none" stroke-width="10" stroke-linejoin="round">
<polyline stroke="#ff0000" points="4265,5445 4471,5724 4677,5818 5088,5818 5500,5911"/>
<polyline stroke="#00b050" points="4265,5631 4471,5911 4677,6004 5088,6004 5500,6004"/>
<polyline stroke="#5b9bd5" points="4265,5538 4471,6004 4677,6004 5088,5911 5500,6191"/>
</g>
<g fill="#ff0000">
<polygon points="4265,5427 4283,5445 4265,5463 4247,5445"/><polygon points="4471,5706 4489,5724 4471,5742 4453,5724"/>
<polygon points="4677,5800 4695,5818 4677,5836 4659,5818"/><polygon points="5088,5800 5106,5818 5088,5836 5070,5818"/>
<polygon points="5500,5893 5518,5911 5500,5929 5482,5911"/>
</g>
<g fill="#00b050">
<rect x="4252" y="5618" width="26" height="26"/><rect x="4458" y="5898" width="26" height="26"/><rect x="4664" y="5991" width="26" height="26"/><rect x="5075" y="5991" width="26" height="26"/><rect x="5487" y="5991" width="26" height="26"/>
</g>
<g fill="#5b9bd5">
<polygon points="4265,5520 4282,5550 4248,5550"/><polygon points="4471,5986 4488,6016 4454,6016"/><polygon points="4677,5986 4694,6016 4660,6016"/><polygon points="5088,5893 5105,5923 5071,5923"/><polygon points="5500,6173 5517,6203 5483,6203"/>
</g>
<text x="5504" y="6190" font-size="66" fill="#5b9bd5" text-anchor="middle">*</text>
<g stroke-width="10"><line x1="5484" y1="5400" x2="5538" y2="5400" stroke="#ff0000"/><line x1="5484" y1="5495" x2="5538" y2="5495" stroke="#00b050"/><line x1="5484" y1="5591" x2="5538" y2="5591" stroke="#5b9bd5"/></g>
<polygon points="5511,5385 5526,5400 5511,5415 5496,5400" fill="#ff0000"/>
<rect x="5501" y="5485" width="20" height="20" fill="#00b050"/>
<polygon points="5511,5576 5525,5601 5497,5601" fill="#5b9bd5"/>
<g font-size="40" font-weight="bold" fill="#000">
<text x="5544" y="5414" textLength="168" lengthAdjust="spacingAndGlyphs">Placebo</text>
<text x="5544" y="5509" textLength="418" lengthAdjust="spacingAndGlyphs">TNX-102 SL 2.8 mg</text>
<text x="5544" y="5605" textLength="418" lengthAdjust="spacingAndGlyphs">TNX-102 SL 5.6 mg</text>
</g>
<text x="4181" y="6270" font-size="46" class="nv" textLength="1105" lengthAdjust="spacingAndGlyphs"><tspan fill="#5b9bd5">*</tspan>p=0.012, TNX-102 SL 5.6 mg v. Placebo, MMRM</text>

<!-- Conclusions -->
<text class="hd" x="5000" y="6422" text-anchor="middle" textLength="823" lengthAdjust="spacingAndGlyphs">CONCLUSIONS</text>
<g class="cn">
<text x="4004" y="6551">•</text><text x="4078" y="6551" textLength="1922" lengthAdjust="spacingAndGlyphs">The AtEase study identified 5.6 mg as an effective dose for TNX-</text>
<text x="4078" y="6632" textLength="1922" lengthAdjust="spacingAndGlyphs">102 SL as a potential treatment for military-related PTSD, with an</text>
<text x="4078" y="6709" textLength="535" lengthAdjust="spacingAndGlyphs">effect size of 0.36.</text>
<text x="4004" y="6790">•</text><text x="4078" y="6790" textLength="1922" lengthAdjust="spacingAndGlyphs" style="word-spacing:25px">Retrospective analysis of the AtEase sample using an entry</text>
<text x="4078" y="6871" textLength="1922" lengthAdjust="spacingAndGlyphs">severity threshold of ≥33, more comparable to prior registration</text>
<text x="4078" y="6950" textLength="1922" lengthAdjust="spacingAndGlyphs">studies, indicates substantially larger effect sizes for TNX-102 SL</text>
<text x="4078" y="7031" textLength="1922" lengthAdjust="spacingAndGlyphs">5.6 mg compared with per protocol of ≥29 on total CAPS-5 (0.53</text>
<text x="4078" y="7110" textLength="1922" lengthAdjust="spacingAndGlyphs" style="word-spacing:12px">v. 0.36) and the Arousal &amp; Reactivity (0.52 v. 0.35), Intrusion</text>
<text x="4078" y="7190" textLength="1718" lengthAdjust="spacingAndGlyphs">(0.46 v. 0.26), and Mood/Cognitions (0.39 v. 0.35) clusters.</text>
<text x="4004" y="7271">•</text><text x="4078" y="7271" textLength="1856" lengthAdjust="spacingAndGlyphs">TNX-102 SL 5.6 mg in the ≥33 subsample significantly reduced</text>
<text x="4078" y="7359" textLength="3616" lengthAdjust="spacingAndGlyphs">reckless or self-destructive behaviors, potentially fulfilling a critical need in the military and veteran populations with PTSD</text>
<text x="4078" y="7438" textLength="3395" lengthAdjust="spacingAndGlyphs">who have  elevated rates of suicidal behaviors, and vehicular and other accidents resulting from high risk behaviors</text>
<text x="4004" y="7519">•</text><text x="4078" y="7519" textLength="3616" lengthAdjust="spacingAndGlyphs">The CAPS-5 severity score of ≥33 was determined to be appropriate for inclusion in planned Phase 3 clinical investigation</text>
<text x="4078" y="7598" textLength="940" lengthAdjust="spacingAndGlyphs">of TNX-102 SL 5.6 mg in PTSD.</text>
<text x="4004" y="7679">•</text><text x="4078" y="7679" textLength="3506" lengthAdjust="spacingAndGlyphs">TNX-102 SL was well tolerated. Oral hypoaesthesia was most common, generally transient, and never rated as severe.</text>
</g>

<!-- Adverse events table -->
<rect x="6086" y="6013" width="1638" height="993" fill="#1c2f5e"/>
<rect x="6102" y="6027" width="1605" height="92" fill="#00b050"/>
<rect x="6102" y="6126" width="1605" height="866" fill="#fff"/>
<rect x="6102" y="6238" width="1605" height="5" fill="#1c2f5e"/>
<rect x="6102" y="6644" width="1605" height="4" fill="#000"/>
<rect x="6102" y="6755" width="1605" height="4" fill="#000"/>
<text class="tt" x="6906" y="6100" font-size="68" text-anchor="middle" textLength="941" lengthAdjust="spacingAndGlyphs">Table 3: Adverse Events*</text>
<g font-size="40" font-weight="bold">
<text x="6128" y="6198" class="nv" textLength="502" lengthAdjust="spacingAndGlyphs">Systemic Adverse Events</text>
<g text-anchor="middle">
<text x="6829" y="6175" class="nv">Placebo</text><text x="6829" y="6220" class="nv">(N=94)</text>
<text x="7149" y="6175" class="nv">TNX-102 SL</text><text x="7149" y="6220" class="nv">2.8 mg (N=93)</text>
<text x="7529" y="6175" class="nv">TNX-102 SL</text><text x="7529" y="6220" class="nv">5.6 mg (N=50)</text>
</g>
<text x="6128" y="6716" class="nv" textLength="595" lengthAdjust="spacingAndGlyphs">Administration Site Reactions</text>
</g>
<g font-size="46">
<text x="6217" y="6298" class="nv">Somnolence</text><text x="6217" y="6380" class="nv">Dry Mouth</text><text x="6217" y="6460" class="nv">Headache</text>
<text x="6217" y="6542" class="nv">Insomnia</text><text x="6217" y="6622" class="nv">Sedation</text>
<text x="6201" y="6815" class="nv">Hypoaesthesia oral<tspan font-size="28" dy="-16">#</tspan></text>
<text x="6201" y="6895" class="nv">Paraesthesia</text><text x="6201" y="6976" class="nv">Glossodynia</text>
<g text-anchor="middle">
<text x="6829" y="6298" class="nv">6.4%</text><text x="7149" y="6298" class="nv">11.8%</text><text x="7529" y="6298" class="nv">16.0%</text>
<text x="6829" y="6380" class="nv">10.6%</text><text x="7149" y="6380" class="nv">4.3%</text><text x="7529" y="6380" class="nv">16.0%</text>
<text x="6829" y="6460" class="nv">4.3%</text><text x="7149" y="6460" class="nv">5.4%</text><text x="7529" y="6460" class="nv">12.0%</text>
<text x="6829" y="6542" class="nv">8.5%</text><text x="7149" y="6542" class="nv">7.5%</text><text x="7529" y="6542" class="nv">6.0%</text>
<text x="6829" y="6622" class="nv">1.1%</text><text x="7149" y="6622" class="nv">2.2%</text><text x="7529" y="6622" class="nv">12.0%</text>
<text x="6829" y="6815" class="nv">2.1%</text><text x="7149" y="6815" class="nv">38.7%</text><text x="7529" y="6815" class="nv">36.0%</text>
<text x="6829" y="6895" class="nv">3.2%</text><text x="7149" y="6895" class="nv">16.1%</text><text x="7529" y="6895" class="nv">4.0%</text>
<text x="6829" y="6976" class="nv">1.1%</text><text x="7149" y="6976" class="nv">3.2%</text><text x="7529" y="6976" class="nv">6.0%</text>
</g></g>
<g class="fn" font-size="40">
<text x="6108" y="7060" textLength="1421" lengthAdjust="spacingAndGlyphs"><tspan font-size="24" dy="-14">#</tspan><tspan dy="14">Oral hypoaesthesia (tongue numbness) was the most common AE, was</tspan></text>
<text x="6108" y="7113" textLength="1494" lengthAdjust="spacingAndGlyphs">generally transient (&lt;60 minutes), and rated as mild in 89% and moderate in</text>
<text x="6108" y="7167" textLength="411" lengthAdjust="spacingAndGlyphs">11% on TNX-102 SL;</text>
<text x="6108" y="7220" textLength="1472" lengthAdjust="spacingAndGlyphs">*Adverse events at a rate of &gt;5% in either TNX-102 SL treated group in the</text>
<text x="6108" y="7273" textLength="506" lengthAdjust="spacingAndGlyphs">safety population (N=237)</text>
</g>
</svg>
</body></html>
